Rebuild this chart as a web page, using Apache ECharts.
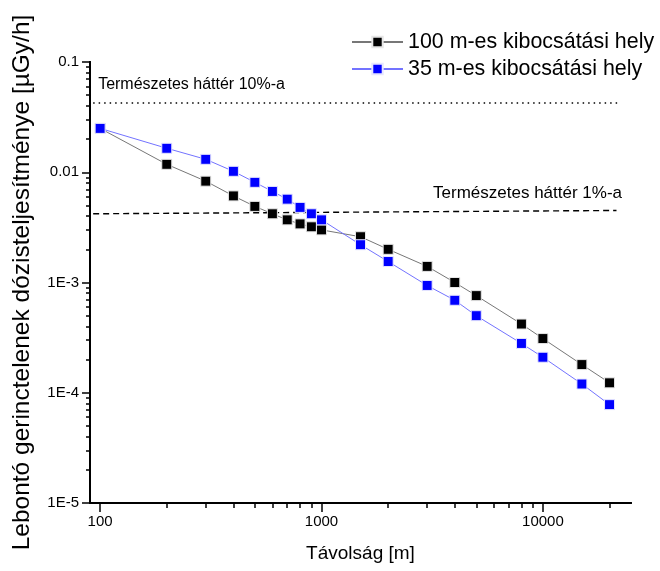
<!DOCTYPE html>
<html>
<head>
<meta charset="utf-8">
<script src="https://cdn.jsdelivr.net/npm/echarts@6/dist/echarts.min.js"></script>
<style>
html,body{margin:0;padding:0;background:#fff;}
#chart{width:660px;height:571px;}
</style>
</head>
<body>
<div id="chart"></div>
<script>
// ---- data ----
const distances = [100,200,300,400,500,600,700,800,900,1000,1500,2000,3000,4000,5000,8000,10000,15000,20000];
const dose100m = [0.025,0.0118,0.0083,0.0061,0.0049,0.0042,0.0037,0.0034,0.0032,0.0030,0.0026,0.0020,0.0014,0.0010,0.00076,0.00042,0.00031,0.00018,0.000123];
const dose35m = [0.025,0.0165,0.0131,0.0102,0.0081,0.0067,0.0057,0.0048,0.0042,0.0037,0.0022,0.00155,0.00094,0.00069,0.00050,0.00028,0.00021,0.00012,0.000078];
const seriesNames = ['100 m-es kibocsátási hely','35 m-es kibocsátási hely'];

const bg10X = [93, 22300];
const bg10Y = [0.0424, 0.0424];
const bg1X = [93, 21500];
const bg1Y = [0.0042, 0.0045];
const bg10Label = 'Természetes háttér 10%-a';
const bg1Label = 'Természetes háttér 1%-a';

const xTicks = [100, 1000, 10000];
const xTickLabels = ['100', '1000', '10000'];
const yTicks = [0.1, 0.01, 0.001, 0.0001, 0.00001];
const yTickLabels = ['0.1', '0.01', '1E-3', '1E-4', '1E-5'];
const xMin = 90, xMax = 25000;
const yMin = 0.00001, yMax = 0.1;
const xTitle = 'Távolság [m]';
const yTitle = 'Lebontó gerinctelenek dózisteljesítménye [µGy/h]';

// ---- helpers ----
const FONT = '"Liberation Sans", Arial, sans-serif';
function minorLogs(lo, hi) {
  const out = [];
  for (let d = Math.floor(Math.log10(lo)); d <= Math.ceil(Math.log10(hi)); d++) {
    for (let k = 2; k <= 9; k++) {
      const v = k * Math.pow(10, d);
      if (v > lo && v < hi) out.push(Math.log10(v));
    }
  }
  return out;
}
function labelFor(ticks, labels) {
  return function (v) {
    for (let i = 0; i < ticks.length; i++) {
      if (Math.abs(Math.log10(ticks[i]) - v) < 1e-6) return labels[i];
    }
    return '';
  };
}
const pairs = (xs, ys) => xs.map((x, i) => [x, ys[i]]);

const chart = echarts.init(document.getElementById('chart'), null, {renderer: 'canvas'});
const axisColor = '#000';
const axisLineStyle = {color: axisColor, width: 1.8};

const option = {
  animation: false,
  backgroundColor: '#fff',
  textStyle: {fontFamily: FONT, color: '#000'},
  grid: {left: 90, right: 29, top: 62, bottom: 68, containLabel: false, outerBoundsMode: 'none'},
  legend: {
    orient: 'vertical',
    left: 351, top: 31.5, padding: 0,
    itemWidth: 51, itemHeight: 13, itemGap: 6,
    data: seriesNames,
    textStyle: {fontFamily: FONT, fontSize: 21.4, color: '#000', lineHeight: 21, padding: [0,0,0,0]},
    selectedMode: false
  },
  xAxis: [
    {type: 'log', logBase: 10, min: xMin, max: xMax, position: 'bottom',
     axisLine: {show: true, onZero: false, lineStyle: axisLineStyle},
     axisTick: {show: false}, axisLabel: {show: false}, splitLine: {show: false}, minorTick: {show: false},
     name: xTitle, nameLocation: 'middle', nameGap: 41,
     nameTextStyle: {fontFamily: FONT, fontSize: 19, color: '#000'}},
    {type: 'value', min: Math.log10(xMin), max: Math.log10(xMax), position: 'bottom',
     axisLine: {show: true, onZero: false, lineStyle: axisLineStyle},
     axisTick: {show: true, customValues: xTicks.map(Math.log10), length: 9, lineStyle: {color: axisColor, width: 1.5}},
     axisLabel: {show: true, customValues: xTicks.map(Math.log10), formatter: labelFor(xTicks, xTickLabels), margin: 11,
       fontFamily: FONT, fontSize: 15, color: '#000'},
     splitLine: {show: false}},
    {type: 'value', min: Math.log10(xMin), max: Math.log10(xMax), position: 'bottom',
     axisLine: {show: true, onZero: false, lineStyle: axisLineStyle},
     axisTick: {show: true, customValues: minorLogs(xMin, xMax), length: 5, lineStyle: {color: axisColor, width: 1.5}},
     axisLabel: {show: false}, splitLine: {show: false}}
  ],
  yAxis: [
    {type: 'log', logBase: 10, min: yMin, max: yMax, position: 'left',
     axisLine: {show: true, onZero: false, lineStyle: axisLineStyle},
     axisTick: {show: false}, axisLabel: {show: false}, splitLine: {show: false}, minorTick: {show: false},
     name: yTitle, nameLocation: 'middle', nameGap: 55, nameRotate: 90,
     nameTextStyle: {fontFamily: FONT, fontSize: 24.5, color: '#000'}},
    {type: 'value', min: Math.log10(yMin), max: Math.log10(yMax), position: 'left',
     axisLine: {show: true, onZero: false, lineStyle: axisLineStyle},
     axisTick: {show: true, customValues: yTicks.map(Math.log10), length: 8, lineStyle: {color: axisColor, width: 1.5}},
     axisLabel: {show: true, customValues: yTicks.map(Math.log10), formatter: labelFor(yTicks, yTickLabels), margin: 11,
       fontFamily: FONT, fontSize: 15, color: '#000'},
     splitLine: {show: false}},
    {type: 'value', min: Math.log10(yMin), max: Math.log10(yMax), position: 'left',
     axisLine: {show: true, onZero: false, lineStyle: axisLineStyle},
     axisTick: {show: true, customValues: minorLogs(yMin, yMax), length: 4, lineStyle: {color: axisColor, width: 1.5}},
     axisLabel: {show: false}, splitLine: {show: false}}
  ],
  series: [
    {name: seriesNames[0], type: 'line', xAxisIndex: 0, yAxisIndex: 0,
     data: pairs(distances, dose100m), symbol: 'rect', symbolSize: 10,
     itemStyle: {color: '#000', borderColor: '#e6e6e6', borderWidth: 1},
     lineStyle: {color: '#777', width: 1}, z: 3},
    {name: seriesNames[1], type: 'line', xAxisIndex: 0, yAxisIndex: 0,
     data: pairs(distances, dose35m), symbol: 'rect', symbolSize: 10,
     itemStyle: {color: '#0000ff', borderColor: '#e6e6ff', borderWidth: 1},
     lineStyle: {color: '#7373ff', width: 1}, z: 4},
    {name: 'bg10', type: 'line', xAxisIndex: 0, yAxisIndex: 0,
     data: pairs(bg10X, bg10Y), symbol: 'none', silent: true,
     lineStyle: {color: '#000', width: 1.5, type: [1.5, 4]}, z: 2},
    {name: 'bg1', type: 'line', xAxisIndex: 0, yAxisIndex: 0,
     data: pairs(bg1X, bg1Y), symbol: 'none', silent: true,
     lineStyle: {color: '#000', width: 1.4, type: [6, 4]}, z: 2}
  ]
};
chart.setOption(option);

// annotation labels positioned from data coordinates of the reference lines
const p10 = chart.convertToPixel({seriesIndex: 2}, [xTicks[0], bg10Y[0]]);
const p1 = chart.convertToPixel({seriesIndex: 3}, [bg10X[1], bg1Y[1]]);
chart.setOption({
  graphic: [
    {type: 'text', left: p10[0] - 2, top: p10[1] - 26, silent: true,
     style: {text: bg10Label, font: '16px ' + FONT, fill: '#000'}},
    {type: 'text', right: 660 - p1[0] - 2, top: p1[1] - 26, silent: true,
     style: {text: bg1Label, font: '17px ' + FONT, fill: '#000'}}
  ]
});
</script>
</body>
</html>
